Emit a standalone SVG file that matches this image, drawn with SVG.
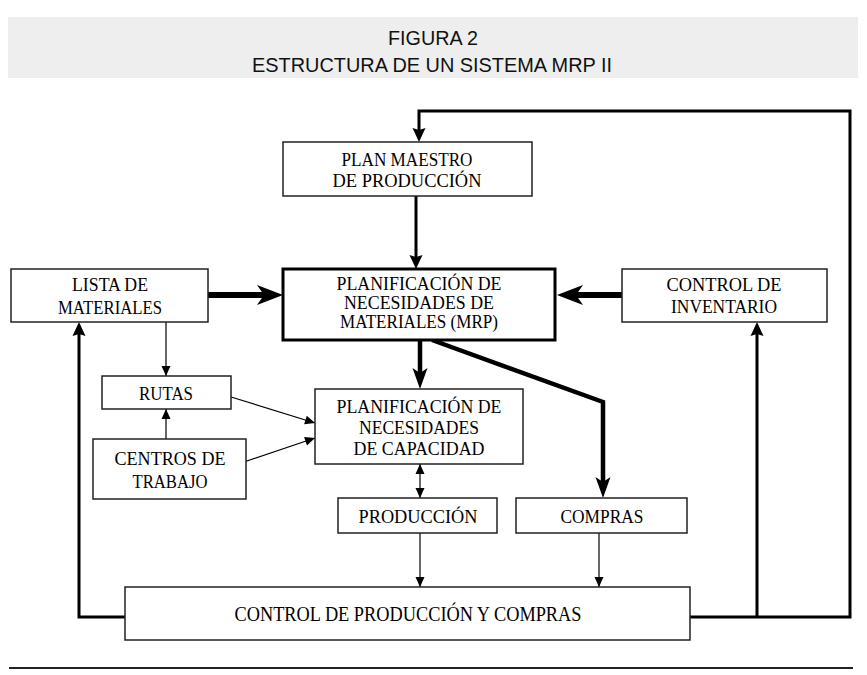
<svg xmlns="http://www.w3.org/2000/svg" width="867" height="675" viewBox="0 0 867 675">
<style>
.box{fill:#fff;stroke:#222;stroke-width:1.5}
.t{font-family:"Liberation Serif","Times New Roman",serif;font-size:19px;fill:#000;text-anchor:middle}
.h{font-family:"Liberation Sans",Arial,sans-serif;font-size:21px;fill:#111;text-anchor:middle}
.fb{fill:none;stroke:#000;stroke-width:3}
.big{fill:none;stroke:#000;stroke-width:6}
.med{fill:none;stroke:#000;stroke-width:4.5}
.thin{fill:none;stroke:#000;stroke-width:1.2}
</style>
<defs>
<marker id="mBig" markerUnits="userSpaceOnUse" viewBox="-10 -12 32 24" markerWidth="32" markerHeight="24" refX="0" refY="0" orient="auto" overflow="visible">
<path d="M19,0 L-7,-10 L0,0 L-7,10 Z" fill="#000"/>
</marker>
<marker id="mMed" markerUnits="userSpaceOnUse" viewBox="-8 -10 28 20" markerWidth="28" markerHeight="20" refX="0" refY="0" orient="auto" overflow="visible">
<path d="M16,0 L-5,-7.5 L0,0 L-5,7.5 Z" fill="#000"/>
</marker>
<marker id="mFb" markerUnits="userSpaceOnUse" viewBox="-4 -8 18 16" markerWidth="18" markerHeight="16" refX="0" refY="0" orient="auto" overflow="visible">
<path d="M12,0 L-2,-6.5 L0,0 L-2,6.5 Z" fill="#000"/>
</marker>
<marker id="mThin" markerUnits="userSpaceOnUse" viewBox="-12 -6 14 12" markerWidth="14" markerHeight="12" refX="0" refY="0" orient="auto" overflow="visible">
<path d="M0,0 L-10,-4.5 L-10,4.5 Z" fill="#000"/>
</marker>
<marker id="mThinS" markerUnits="userSpaceOnUse" viewBox="-12 -6 14 12" markerWidth="14" markerHeight="12" refX="0" refY="0" orient="auto-start-reverse" overflow="visible">
<path d="M0,0 L-10,-4.5 L-10,4.5 Z" fill="#000"/>
</marker>
</defs>

<g id="title">
<rect x="8" y="17" width="850" height="61" fill="#eeeeee"/>
<text class="h" x="433" y="45" textLength="90" lengthAdjust="spacingAndGlyphs">FIGURA 2</text>
<text class="h" x="432" y="72" textLength="360" lengthAdjust="spacingAndGlyphs">ESTRUCTURA DE UN SISTEMA MRP II</text>
</g>

<g id="connectors">
<polyline class="fb" points="690,617 850,617 850,111 419,111 419,130" marker-end="url(#mFb)"/>
<polyline class="fb" points="757,617 757,334" marker-end="url(#mFb)"/>
<polyline class="fb" points="125,617 79,617 79,334" marker-end="url(#mFb)"/>
<line class="fb" x1="416" y1="196" x2="416" y2="257" marker-end="url(#mFb)"/>
<line class="big" x1="208" y1="295" x2="264" y2="295" marker-end="url(#mBig)"/>
<line class="big" x1="622" y1="295" x2="576" y2="295" marker-end="url(#mBig)"/>
<line class="med" x1="420" y1="340" x2="420" y2="373" marker-end="url(#mMed)"/>
<polyline class="med" points="432,340 603,402 603,482" marker-end="url(#mMed)"/>
<line class="thin" x1="166" y1="322" x2="166" y2="376" marker-end="url(#mThin)"/>
<line class="thin" x1="166" y1="439" x2="166" y2="409" marker-end="url(#mThin)"/>
<line class="thin" x1="231" y1="397" x2="315" y2="423" marker-end="url(#mThin)"/>
<line class="thin" x1="244" y1="462" x2="315" y2="438" marker-end="url(#mThin)"/>
<line class="thin" x1="420" y1="464" x2="420" y2="498" marker-start="url(#mThinS)" marker-end="url(#mThin)"/>
<line class="thin" x1="420" y1="533" x2="420" y2="587" marker-end="url(#mThin)"/>
<line class="thin" x1="599" y1="533" x2="599" y2="587" marker-end="url(#mThin)"/>
</g>

<g id="plan">
<rect class="box" x="283" y="142" width="249" height="54"/>
<text class="t" x="407" y="166" textLength="131" lengthAdjust="spacingAndGlyphs">PLAN MAESTRO</text>
<text class="t" x="407" y="187" textLength="149" lengthAdjust="spacingAndGlyphs">DE PRODUCCIÓN</text>
</g>
<g id="lista">
<rect class="box" x="11" y="269" width="197" height="53"/>
<text class="t" x="110" y="291" textLength="76" lengthAdjust="spacingAndGlyphs">LISTA DE</text>
<text class="t" x="110" y="314" textLength="104" lengthAdjust="spacingAndGlyphs">MATERIALES</text>
</g>
<g id="mrp">
<rect class="box" x="283" y="269" width="272" height="71" style="stroke:#000;stroke-width:3"/>
<text class="t" x="419" y="290" textLength="165" lengthAdjust="spacingAndGlyphs">PLANIFICACIÓN DE</text>
<text class="t" x="419" y="309" textLength="150" lengthAdjust="spacingAndGlyphs">NECESIDADES DE</text>
<text class="t" x="419" y="328" textLength="158" lengthAdjust="spacingAndGlyphs">MATERIALES (MRP)</text>
</g>
<g id="inventario">
<rect class="box" x="622" y="269" width="205" height="53"/>
<text class="t" x="724" y="291" textLength="115" lengthAdjust="spacingAndGlyphs">CONTROL DE</text>
<text class="t" x="724" y="313" textLength="106" lengthAdjust="spacingAndGlyphs">INVENTARIO</text>
</g>
<g id="rutas">
<rect class="box" x="102" y="376" width="129" height="33"/>
<text class="t" x="166" y="400" textLength="54" lengthAdjust="spacingAndGlyphs">RUTAS</text>
</g>
<g id="centros">
<rect class="box" x="93" y="439" width="153" height="60"/>
<text class="t" x="170" y="465" textLength="111" lengthAdjust="spacingAndGlyphs">CENTROS DE</text>
<text class="t" x="170" y="488" textLength="75" lengthAdjust="spacingAndGlyphs">TRABAJO</text>
</g>
<g id="capacidad">
<rect class="box" x="315" y="389" width="208" height="75"/>
<text class="t" x="419" y="413" textLength="165" lengthAdjust="spacingAndGlyphs">PLANIFICACIÓN DE</text>
<text class="t" x="419" y="434" textLength="120" lengthAdjust="spacingAndGlyphs">NECESIDADES</text>
<text class="t" x="419" y="455" textLength="131" lengthAdjust="spacingAndGlyphs">DE CAPACIDAD</text>
</g>
<g id="produccion">
<rect class="box" x="338" y="498" width="159" height="35"/>
<text class="t" x="418" y="523" textLength="119" lengthAdjust="spacingAndGlyphs">PRODUCCIÓN</text>
</g>
<g id="compras">
<rect class="box" x="516" y="498" width="171" height="35"/>
<text class="t" x="602" y="523" textLength="83" lengthAdjust="spacingAndGlyphs">COMPRAS</text>
</g>
<g id="control">
<rect class="box" x="125" y="587" width="565" height="53"/>
<text class="t" x="408" y="621" style="font-size:20px" textLength="347" lengthAdjust="spacingAndGlyphs">CONTROL DE PRODUCCIÓN Y COMPRAS</text>
</g>

<line x1="9" y1="668" x2="853" y2="668" stroke="#222" stroke-width="2"/>
</svg>
